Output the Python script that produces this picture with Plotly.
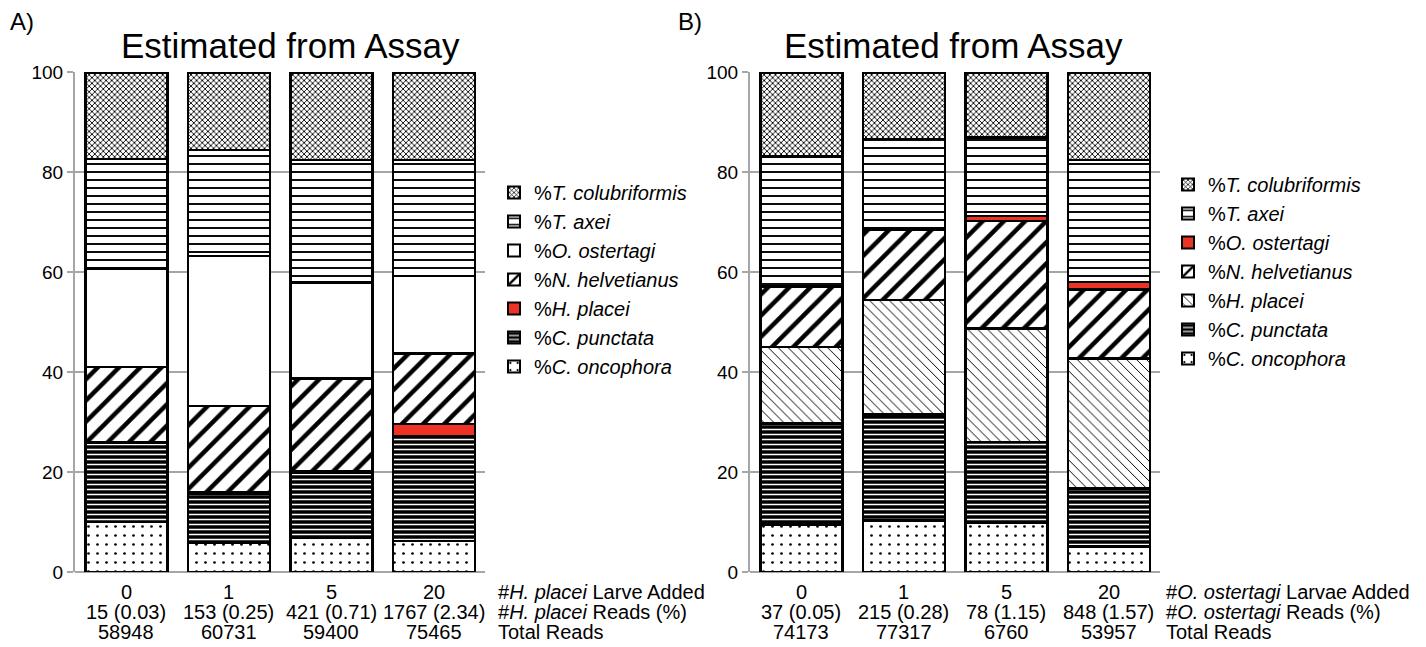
import plotly.graph_objects as go

# ---------------- data ----------------
larvae_added = ["0", "1", "5", "20"]

# Panel A (H. placei spike-in)
a_reads = ["15 (0.03)", "153 (0.25)", "421 (0.71)", "1767 (2.34)"]
a_total = ["58948", "60731", "59400", "75465"]
a_c_oncophora = [10.0, 5.9, 6.9, 6.2]
a_c_punctata = [15.9, 9.7, 12.9, 20.9]
a_h_placei = [0.05, 0.3, 0.3, 2.5]
a_n_helvetianus = [15.05, 17.3, 18.6, 14.1]
a_o_ostertagi = [19.7, 30.0, 19.2, 15.5]
a_t_axei = [21.9, 21.2, 24.5, 23.2]
a_t_colubriformis = [17.4, 15.6, 17.6, 17.6]

# Panel B (O. ostertagi spike-in)
b_reads = ["37 (0.05)", "215 (0.28)", "78 (1.15)", "848 (1.57)"]
b_total = ["74173", "77317", "6760", "53957"]
b_c_oncophora = [9.5, 10.3, 9.8, 5.1]
b_c_punctata = [20.2, 21.2, 16.2, 11.6]
b_h_placei = [15.3, 22.9, 22.7, 26.0]
b_n_helvetianus = [12.1, 14.1, 21.5, 13.8]
b_o_ostertagi = [0.05, 0.3, 1.0, 1.5]
b_t_axei = [25.95, 17.8, 15.7, 24.4]
b_t_colubriformis = [16.9, 13.4, 13.1, 17.6]

row_labels_a = ["#<i>H. placei</i> Larve Added", "#<i>H. placei</i> Reads (%)", "Total Reads"]
row_labels_b = ["#<i>O. ostertagi</i> Larvae Added", "#<i>O. ostertagi</i> Reads (%)", "Total Reads"]

# ---------------- styles ----------------
RED = "#EE3325"
FONT = "Liberation Sans, Arial, sans-serif"
GRID = "#A6A6A6"

def style(kind):
    if kind == "onc":
        return dict(color="white", pattern=dict(shape=".", fgcolor="black", bgcolor="white", size=9, solidity=0.07, fgopacity=1))
    if kind == "punct":
        return dict(color="black", pattern=dict(shape="-", fgcolor="white", bgcolor="black", size=5, solidity=0.3, fgopacity=1))
    if kind == "red":
        return dict(color=RED, pattern=dict(shape=""))
    if kind == "hatch":
        return dict(color="white", pattern=dict(shape="/", fgcolor="black", bgcolor="white", size=15, solidity=0.3, fgopacity=1))
    if kind == "white":
        return dict(color="white", pattern=dict(shape=""))
    if kind == "dotdiag":
        return dict(color="white", pattern=dict(shape="\\", fgcolor="black", bgcolor="white", size=7, solidity=0.14, fgopacity=1))
    if kind == "lines":
        return dict(color="white", pattern=dict(shape="-", fgcolor="black", bgcolor="white", size=8, solidity=0.24, fgopacity=1))
    if kind == "checker":
        return dict(color="white", pattern=dict(shape="x", fgcolor="black", bgcolor="white", size=4, solidity=0.4, fgopacity=1))

fig = go.Figure()

def add_bar(name, vals, kind, xaxis, yaxis, legend):
    m = style(kind)
    fig.add_trace(go.Bar(
        x=larvae_added, y=vals, name=name,
        marker=dict(color=m["color"], pattern=m["pattern"],
                    line=dict(color="black", width=2.5)),
        xaxis=xaxis, yaxis=yaxis, legend=legend, width=0.8,
    ))

panel_a = [
    ("%<i>C. oncophora</i>", a_c_oncophora, "onc"),
    ("%<i>C. punctata</i>", a_c_punctata, "punct"),
    ("%<i>H. placei</i>", a_h_placei, "red"),
    ("%<i>N. helvetianus</i>", a_n_helvetianus, "hatch"),
    ("%<i>O. ostertagi</i>", a_o_ostertagi, "white"),
    ("%<i>T. axei</i>", a_t_axei, "lines"),
    ("%<i>T. colubriformis</i>", a_t_colubriformis, "checker"),
]
panel_b = [
    ("%<i>C. oncophora</i>", b_c_oncophora, "onc"),
    ("%<i>C. punctata</i>", b_c_punctata, "punct"),
    ("%<i>H. placei</i>", b_h_placei, "dotdiag"),
    ("%<i>N. helvetianus</i>", b_n_helvetianus, "hatch"),
    ("%<i>O. ostertagi</i>", b_o_ostertagi, "red"),
    ("%<i>T. axei</i>", b_t_axei, "lines"),
    ("%<i>T. colubriformis</i>", b_t_colubriformis, "checker"),
]
for name, vals, kind in panel_a:
    add_bar(name, vals, kind, "x", "y", "legend")
for name, vals, kind in panel_b:
    add_bar(name, vals, kind, "x2", "y2", "legend2")

# page has an 8px body margin; work in page pixel coordinates
OFF = 8
W, H = 1426 - OFF, 647 - OFF
PLOT_TOP, PLOT_BOT = 72, 572           # page pixels
MT = PLOT_TOP - OFF
MB = H - (PLOT_BOT - OFF)
PH = PLOT_BOT - PLOT_TOP

def px(x):
    return (x - OFF) / W

def py(y):
    return (PLOT_BOT - y) / PH

xcommon = dict(type="category", range=[-0.5, 3.5], showgrid=False, zeroline=False,
               showline=False, ticks="", showticklabels=False)
ycommon = dict(range=[0, 100.05], tickvals=[0, 20, 40, 60, 80, 100], showgrid=True,
               gridcolor=GRID, gridwidth=2, showline=True, linecolor=GRID, linewidth=2,
               ticks="outside", ticklen=6, tickwidth=2, tickcolor=GRID,
               tickfont=dict(size=19, color="black", family=FONT), zeroline=True,
               zerolinecolor=GRID, zerolinewidth=2)

legend_common = dict(xanchor="left", yanchor="top", traceorder="reversed",
                     font=dict(size=20, family=FONT, color="black"),
                     itemsizing="constant", bgcolor="rgba(0,0,0,0)", tracegroupgap=0)

fig.update_layout(
    width=W, height=H, barmode="stack", bargap=0.2,
    margin=dict(l=0, r=0, t=MT, b=MB),
    paper_bgcolor="white", plot_bgcolor="white",
    font=dict(family=FONT, color="black"),
    xaxis=dict(domain=[px(75), px(485)], anchor="y", **xcommon),
    yaxis=dict(domain=[0, 1], anchor="x", **ycommon),
    xaxis2=dict(domain=[px(750), px(1160)], anchor="y2", **xcommon),
    yaxis2=dict(domain=[0, 1], anchor="x2", **ycommon),
    legend=dict(x=px(494), y=py(173), **legend_common),
    legend2=dict(x=px(1168), y=py(165), **legend_common),
    showlegend=True,
)

ann_font = dict(size=20, family=FONT, color="black")
annotations = [
    dict(text="A)", x=px(8), y=py(22), xref="paper", yref="paper",
         xanchor="left", yanchor="middle", showarrow=False, font=dict(size=24, family=FONT)),
    dict(text="B)", x=px(676), y=py(22), xref="paper", yref="paper",
         xanchor="left", yanchor="middle", showarrow=False, font=dict(size=24, family=FONT)),
    dict(text="Estimated from Assay", x=px(290), y=py(46), xref="paper", yref="paper",
         xanchor="center", yanchor="middle", showarrow=False, font=dict(size=35, family=FONT)),
    dict(text="Estimated from Assay", x=px(953), y=py(46), xref="paper", yref="paper",
         xanchor="center", yanchor="middle", showarrow=False, font=dict(size=35, family=FONT)),
]
row_y = [592, 612, 632]
for xref, rows, labels, lx in [("x", [larvae_added, a_reads, a_total], row_labels_a, 496),
                               ("x2", [larvae_added, b_reads, b_total], row_labels_b, 1164)]:
    for yy, vals, lab in zip(row_y, rows, labels):
        for i, v in enumerate(vals):
            annotations.append(dict(text=v, x=i, xref=xref, y=py(yy), yref="paper",
                                    xanchor="center", yanchor="middle", showarrow=False,
                                    font=ann_font))
        annotations.append(dict(text=lab, x=px(lx), xref="paper", y=py(yy), yref="paper",
                                xanchor="left", yanchor="middle", showarrow=False,
                                font=ann_font))
fig.update_layout(annotations=annotations)

fig.write_html("out.html")
